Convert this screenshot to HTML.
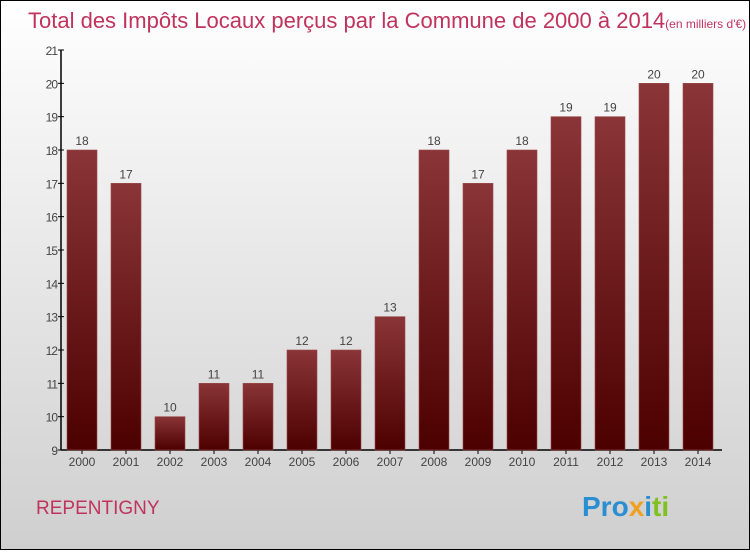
<!DOCTYPE html>
<html><head><meta charset="utf-8"><style>
body{margin:0;width:750px;height:550px;overflow:hidden;font-family:"Liberation Sans",sans-serif}
#wrap{position:relative;width:748px;height:548px;border:1px solid #000;background:linear-gradient(#ffffff,#f0f0f0 30%,#cfcfcf)}
</style></head><body>
<div id="wrap">
<svg width="748" height="548" viewBox="1 1 748 548" id="svg">
<defs><linearGradient id="bg" x1="0" y1="0" x2="0" y2="1"><stop offset="0" stop-color="#8a3538"/><stop offset="1" stop-color="#4d0000"/></linearGradient></defs>
<text x="28" y="28" font-size="22" fill="#c0335f">Total des Impôts Locaux perçus par la Commune de 2000 à 2014<tspan font-size="12">(en milliers d'€)</tspan></text>
<text x="36" y="514" font-size="19" fill="#c0335f">REPENTIGNY</text>
<text x="582" y="516" font-size="28" font-weight="bold"><tspan fill="#2a8fd0">Pro</tspan><tspan fill="#f0a020">x</tspan><tspan fill="#2a8fd0">i</tspan><tspan fill="#80c020">ti</tspan></text>
<g id="axes"></g><g id="bars"></g>
</svg></div>
<script>
const years=["2000","2001","2002","2003","2004","2005","2006","2007","2008","2009","2010","2011","2012","2013","2014"];
const values=[18,17,10,11,11,12,12,13,18,17,18,19,19,20,20];
const yTicks=[9,10,11,12,13,14,15,16,17,18,19,20,21];
const ns="http://www.w3.org/2000/svg";
const y0=450,yTop=50,vMin=9,vMax=21;
const y=v=>y0-(v-vMin)/(vMax-vMin)*(y0-yTop);
const xc=i=>82+i*44;
function mk(t,a,p){const e=document.createElementNS(ns,t);for(const k in a)e.setAttribute(k,a[k]);p.appendChild(e);return e;}
const ax=document.getElementById('axes'),bg=document.getElementById('bars');
let l=mk('line',{x1:61,y1:y0,x2:722,y2:y0,stroke:'#000','stroke-width':1.5},ax);


l=mk('line',{x1:61,y1:yTop,x2:61,y2:y0,stroke:'#000','stroke-width':1.5},ax);


yTicks.forEach(v=>{
 mk('line',{x1:58,y1:y(v),x2:64,y2:y(v),stroke:'#000'},ax);
 const t=mk('text',{x:57,y:y(v)+5,'text-anchor':'end','font-size':12,fill:'#444','letter-spacing':'-1'},ax);t.textContent=v;
 
 
});
values.forEach((v,i)=>{
 const r=mk('rect',{x:xc(i)-15,y:y(v),width:30,height:y0-y(v),fill:'url(#bg)',stroke:'#9a4a4a','stroke-width':0.6},bg);
 
 
 const t=mk('text',{x:xc(i),y:y(v)-5,'text-anchor':'middle','font-size':12,fill:'#444'},bg);t.textContent=v;
 
 
 mk('line',{x1:xc(i),y1:y0,x2:xc(i),y2:y0+4,stroke:'#000'},ax);
 const xl=mk('text',{x:xc(i),y:466,'text-anchor':'middle','font-size':12,fill:'#444'},ax);xl.textContent=years[i];
 
 
});
</script>
</body></html>
